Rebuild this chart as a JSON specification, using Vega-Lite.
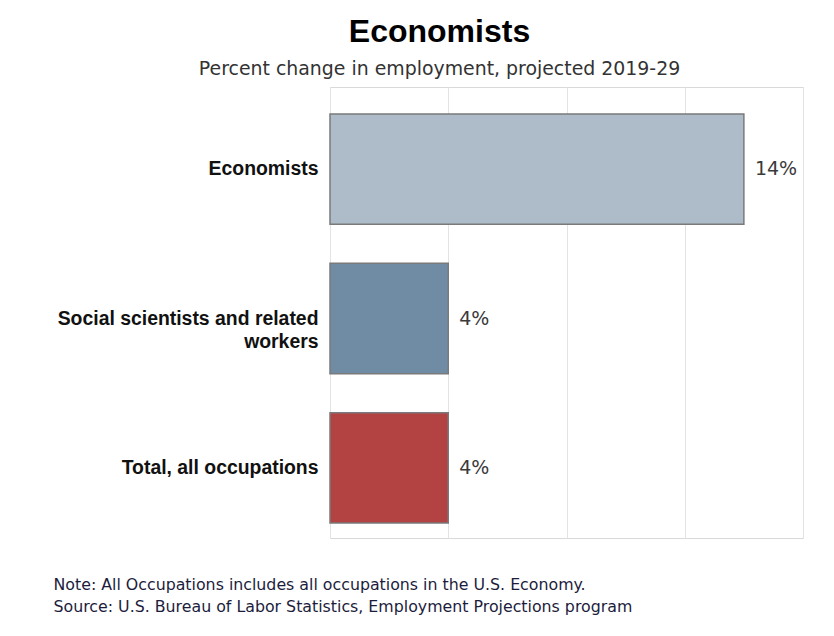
{
  "$schema": "https://vega.github.io/schema/vega-lite/v6.json",
  "width": 473,
  "height": 451,
  "autosize": {"type": "none"},
  "padding": {"left": 330, "top": 87, "right": 31, "bottom": 98},
  "background": "white",
  "config": {"view": {"stroke": "#d9d9d9", "strokeWidth": 1}},
  "title": {
    "text": "Economists",
    "subtitle": "Percent change in employment, projected 2019-29",
    "anchor": "middle",
    "frame": "group",
    "dx": -127,
    "offset": 7,
    "font": "Liberation Sans",
    "fontSize": 32,
    "fontWeight": "bold",
    "color": "#000000",
    "subtitleFont": "DejaVu Sans",
    "subtitleFontSize": 18.9,
    "subtitleColor": "#333333",
    "subtitlePadding": 11
  },
  "data": {
    "values": [
      {"occupation": "Economists", "change": 0.14},
      {"occupation": "Social scientists and related workers", "change": 0.04},
      {"occupation": "Total, all occupations", "change": 0.04}
    ]
  },
  "encoding": {
    "y": {
      "field": "occupation",
      "type": "nominal",
      "sort": null,
      "scale": {"paddingInner": 0.261, "paddingOuter": 0.1405, "align": 0.643},
      "axis": {
        "title": null,
        "ticks": false,
        "domain": false,
        "labelFont": "Liberation Sans",
        "labelFontSize": 19.4,
        "labelFontWeight": "bold",
        "labelColor": "#111111",
        "labelPadding": 12,
        "labelLimit": 0,
        "labelLineHeight": 23,
        "labelExpr": "datum.value == 'Social scientists and related workers' ? ['Social scientists and related', 'workers'] : datum.value"
      }
    },
    "x": {
      "field": "change",
      "type": "quantitative",
      "scale": {"domain": [0, 0.16], "nice": false},
      "axis": {
        "values": [0, 0.04, 0.08, 0.12, 0.16],
        "labels": false,
        "ticks": false,
        "domain": false,
        "grid": true,
        "gridColor": "#e3e3e3",
        "title": ["Note: All Occupations includes all occupations in the U.S. Economy.", "Source: U.S. Bureau of Labor Statistics, Employment Projections program"],
        "titleX": -277,
        "titleY": 51,
        "titleAlign": "left",
        "titleAnchor": null,
        "titleBaseline": "alphabetic",
        "titleFont": "DejaVu Sans",
        "titleFontSize": 15.8,
        "titleFontWeight": "normal",
        "titleColor": "#1c1c3c",
        "titleLineHeight": 22
      }
    }
  },
  "layer": [
    {
      "mark": {"type": "bar", "stroke": "#7a7a7a", "strokeWidth": 1.5},
      "encoding": {
        "color": {
          "field": "occupation",
          "type": "nominal",
          "scale": {
            "domain": ["Economists", "Social scientists and related workers", "Total, all occupations"],
            "range": ["#adbcc8", "#6f8ca4", "#b34343"]
          },
          "legend": null
        }
      }
    },
    {
      "mark": {"type": "text", "align": "left", "baseline": "middle", "dx": 11, "font": "DejaVu Sans", "fontSize": 19, "color": "#3a3a3a"},
      "encoding": {
        "text": {"field": "change", "type": "quantitative", "format": ".0%"}
      }
    }
  ]
}
